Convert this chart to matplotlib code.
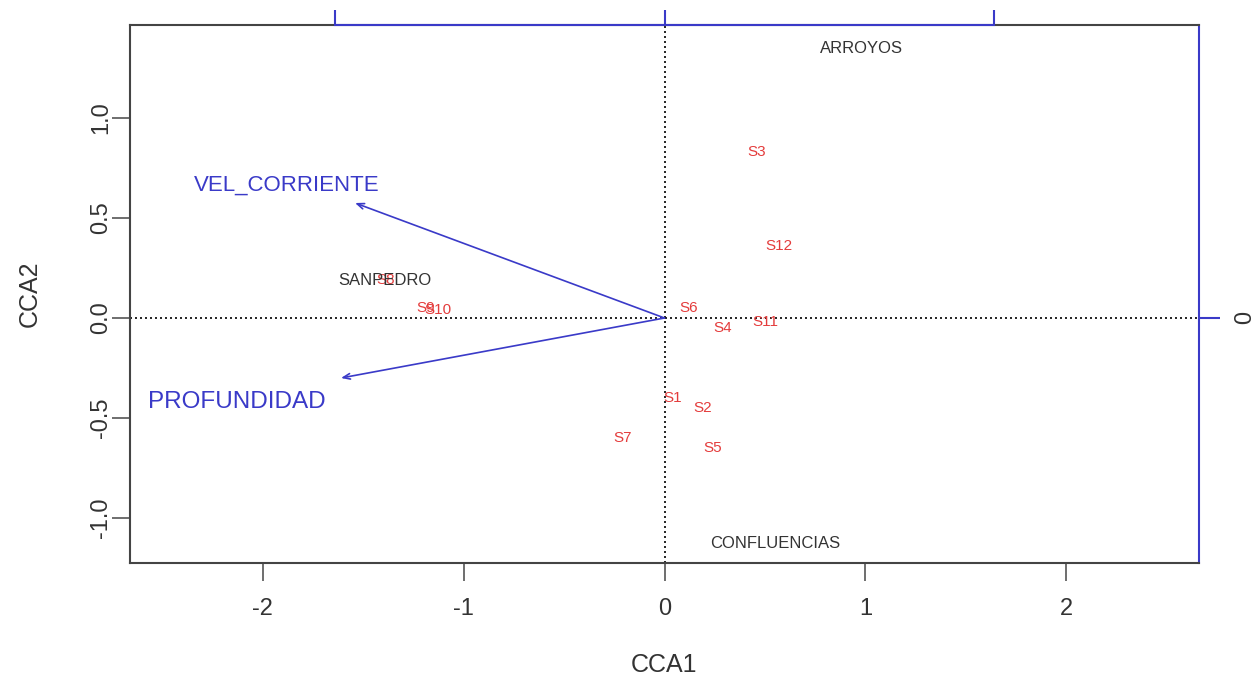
import matplotlib
matplotlib.use("Agg")
import matplotlib.pyplot as plt

plt.rcParams['font.family'] = ['Liberation Sans', 'DejaVu Sans']

# puntuaciones de sitios (CCA1, CCA2)
sitios = ["S1", "S2", "S3", "S4", "S5", "S6", "S7", "S8", "S9", "S10", "S11", "S12"]
sitios_x = [0.04, 0.19, 0.46, 0.29, 0.24, 0.12, -0.21, -1.39, -1.19, -1.13, 0.50, 0.57]
sitios_y = [-0.40, -0.45, 0.83, -0.05, -0.65, 0.05, -0.60, 0.19, 0.05, 0.04, -0.02, 0.36]

# centroides de grupos
grupos = ["SANPEDRO", "ARROYOS", "CONFLUENCIAS"]
grupos_x = [-1.39, 0.98, 0.55]
grupos_y = [0.19, 1.35, -1.13]

# flechas de variables ambientales
variables = ["VEL_CORRIENTE", "PROFUNDIDAD"]
flecha_x = [-1.54, -1.61]
flecha_y = [0.575, -0.30]
etiqueta_x = [-1.88, -2.13]
etiqueta_y = [0.665, -0.42]
etiqueta_tam = [16, 17.5]

xticks = [-2, -1, 0, 1, 2]
yticks = [-1.0, -0.5, 0.0, 0.5, 1.0]
ticks_arriba = [-1.64, 0, 1.64]

azul = '#3a3ac8'
rojo = '#e43c3c'
gris = '#333333'

fig = plt.figure(figsize=(12.58, 6.84), dpi=100)
ax = fig.add_axes([130/1258, 121/684, 1069/1258, 538/684])
ax.set_xlim(-2.66, 2.66)
ax.set_ylim(-1.225, 1.465)

ax.axhline(0, color='black', ls=(0, (1.2, 1.8)), lw=1.2)
ax.axvline(0, color='black', ls=(0, (1.2, 1.8)), lw=1.2)

for i, v in enumerate(variables):
    ax.annotate("", xy=(flecha_x[i], flecha_y[i]), xytext=(0, 0),
                arrowprops=dict(arrowstyle='->,head_length=0.5,head_width=0.2',
                                color=azul, lw=1.2, shrinkA=0, shrinkB=0))
    ax.text(etiqueta_x[i], etiqueta_y[i], v, color=azul, fontsize=etiqueta_tam[i],
            ha='center', va='center')

for s, x, y in zip(sitios, sitios_x, sitios_y):
    ax.text(x, y, s, color=rojo, fontsize=11, ha='center', va='center')

for g, x, y in zip(grupos, grupos_x, grupos_y):
    ax.text(x, y, g, color=gris, fontsize=12, ha='center', va='center')

ax.set_xticks(xticks)
ax.set_xticklabels([f"{t:g}" for t in xticks])
ax.set_yticks(yticks)
ax.set_yticklabels([f"{t:.1f}" for t in yticks], rotation=90, va='center')
ax.tick_params(axis='both', length=13, width=1.2, color='#555555',
               labelsize=17, labelcolor=gris)
ax.tick_params(axis='x', pad=12)
ax.tick_params(axis='y', pad=0)
ax.set_xlabel("CCA1", fontsize=18, color=gris, labelpad=24)
ax.set_ylabel("CCA2", fontsize=18, color=gris, labelpad=35)

for lado in ['left', 'bottom', 'top']:
    ax.spines[lado].set_color('#444444')
    ax.spines[lado].set_linewidth(1.5)
ax.spines['right'].set_color(azul)
ax.spines['right'].set_linewidth(1.5)

# eje superior (escala de las flechas)
arriba = ax.secondary_xaxis('top')
arriba.set_xticks(ticks_arriba)
arriba.set_xticklabels([])
arriba.tick_params(length=11, width=1.5, color=azul)
arriba.spines['top'].set_visible(False)
ax.plot([ticks_arriba[0], ticks_arriba[-1]], [1, 1], transform=ax.get_xaxis_transform(),
        color=azul, lw=1.5, clip_on=False, zorder=5)

# eje derecho
derecha = ax.secondary_yaxis('right')
derecha.set_yticks([0])
derecha.set_yticklabels(["0"], rotation=-90, va='center')
derecha.tick_params(length=15, width=1.5, color=azul, labelsize=17, labelcolor=gris, pad=5)
derecha.spines['right'].set_visible(False)

fig.savefig("out.png", dpi=100)
